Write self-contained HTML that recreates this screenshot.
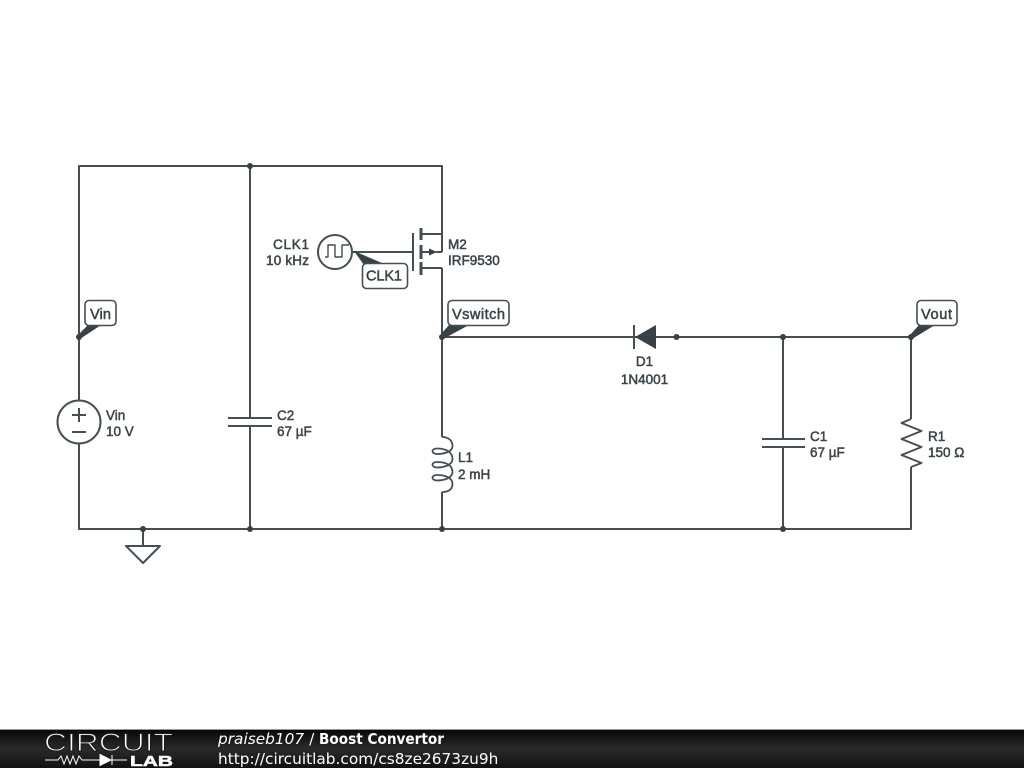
<!DOCTYPE html>
<html><head><meta charset="utf-8"><style>
html,body{margin:0;padding:0;background:#fff}
svg{display:block}
.w{fill:none;stroke:#454e52;stroke-width:2;stroke-linejoin:round}
.t{font-family:"Liberation Sans",sans-serif;font-size:13.5px;font-weight:400;fill:#3b4448;stroke:#3b4448;stroke-width:.5}
.l{font-size:14.6px}
.d{fill:#384145}
.b{fill:#fff;stroke:#454e52;stroke-width:1.6}
.f{font-family:"DejaVu Sans",sans-serif;font-size:15.35px;fill:#fff}
</style></head><body>
<svg width="1024" height="768" viewBox="0 0 1024 768" xmlns="http://www.w3.org/2000/svg">
<defs><linearGradient id="g" x1="0" y1="0" x2="0" y2="1"><stop offset="0" stop-color="#050505"/><stop offset=".5" stop-color="#2a2a2a"/><stop offset="1" stop-color="#111"/></linearGradient></defs>
<rect width="1024" height="768" fill="#fff"/>
<path class="w" d="M79 400V166H442V252M250 166V418M250 426V529M79 444V529H911V467M911 419V337H442M442 268V437M442 492V529M783 337V439M783 447V529M143 529V546M352 252H413M422 234H442M422 252H430M436 252H442M422 268H442"/>
<circle class="w" cx="79" cy="422" r="21.5"/>
<path class="w" d="M72 415H86M79 408V422M72 432H86"/>
<path class="w" d="M228 418H272M228 426H272M762 439H805M762 447H805"/>
<circle class="w" cx="335" cy="252" r="17"/>
<path class="w" style="stroke-width:1.4" d="M325 257H328V245H335V257H342V245H349"/>
<path class="w" d="M413 233V271"/>
<path class="w" style="stroke-width:3" d="M421 228V240M421 245V259M421 262V275"/>
<path class="d" d="M429 248.500L437 252L429 255.500Z"/>
<path class="w" style="stroke-width:1.8" d="M442 437C449 437 452.500 441 452.500 446C452.500 452 444 454 437 454C431 454 431 448.500 437 448.500C446 448.500 452.500 452 452.500 459C452.500 465 444 467.500 437 467.500C431 467.500 431 462 437 462C446 462 452.500 465 452.500 472C452.500 478 444 480.500 437 480.500C431 480.500 431 475 437 475C446 475 452.500 478 452.500 484C452.500 489 449 492 442 492"/>
<path class="w" d="M911 419L901.500 423L921.500 431L901.500 439L921.500 447L901.500 455L921.500 463L911 467"/>
<path class="w" d="M634 325V349"/>
<path class="d" d="M635 337L656 325V349Z"/>
<path class="w" d="M126 546H160L143 563Z"/>
<g class="d">
<circle cx="250" cy="166" r="3"/><circle cx="79" cy="337" r="3"/><circle cx="442" cy="337" r="3"/><circle cx="676.500" cy="337" r="3"/><circle cx="783" cy="337" r="3"/><circle cx="911" cy="337" r="3"/><circle cx="143" cy="529" r="3"/><circle cx="250" cy="529" r="3"/><circle cx="442" cy="529" r="3"/><circle cx="783" cy="529" r="3"/>
<path d="M78 335L88 325H101L80 339Z"/><path d="M441 334L449 325H469L443 339Z"/><path d="M910 335L919 325H935L912 339Z"/><path d="M354 251L382 263L364 265Z"/>
</g>
<rect class="b" x="85" y="300.500" width="31" height="25" rx="4"/>
<rect class="b" x="448" y="300.500" width="61" height="25" rx="4"/>
<rect class="b" x="917" y="300.500" width="40" height="25" rx="4"/>
<rect class="b" x="362.500" y="263.500" width="45" height="25" rx="4"/>
<g class="t">
<text class="l" x="90" y="319" textLength="21">Vin</text>
<text class="l" x="452" y="319" textLength="53">Vswitch</text>
<text class="l" x="921" y="319" textLength="31">Vout</text>
<text class="l" x="366" y="280.500" textLength="36">CLK1</text>
<text x="273" y="249" textLength="36">CLK1</text>
<text x="266" y="265" textLength="43">10 kHz</text>
<text x="448" y="249">M2</text>
<text x="448" y="265">IRF9530</text>
<text x="106" y="420">Vin</text>
<text x="106" y="436">10 V</text>
<text x="277" y="420">C2</text>
<text x="277" y="436">67 µF</text>
<text x="458" y="462">L1</text>
<text x="458" y="479">2 mH</text>
<text x="644.500" y="366" text-anchor="middle">D1</text>
<text x="644.500" y="384" text-anchor="middle">1N4001</text>
<text x="810" y="441">C1</text>
<text x="810" y="457">67 µF</text>
<text x="928" y="441">R1</text>
<text x="928" y="457">150 Ω</text>
</g>
<rect y="729" width="1024" height="39" fill="url(#g)"/>
<rect y="729" width="1024" height="1" fill="#999"/>
<text x="44" y="751" textLength="129" lengthAdjust="spacingAndGlyphs" style="font-family:'Liberation Sans',sans-serif;font-size:25px;fill:#fff;stroke:#1c1c1c;stroke-width:1.1">CIRCUIT</text>
<path d="M45 760H58L61 756L64 764L67 756L70 764L73 756L76 764L79 756L82 760H127" fill="none" stroke="#fff" stroke-width="1"/>
<path d="M100 754.500L111 760L100 765.500ZM112 755V765" fill="#fff" stroke="#fff"/>
<text x="130" y="766" textLength="43" lengthAdjust="spacingAndGlyphs" style="font-family:'Liberation Sans',sans-serif;font-size:15px;font-weight:700;fill:#fff;stroke:#fff;stroke-width:.5">LAB</text>
<text class="f" x="218" y="744"><tspan font-style="italic">praiseb107</tspan> /</text>
<text class="f" x="319" y="744" textLength="125" lengthAdjust="spacingAndGlyphs" font-weight="700" style="font-size:14.8px">Boost Convertor</text>
<text class="f" x="218" y="764">http://circuitlab.com/cs8ze2673zu9h</text>
</svg>
</body></html>
